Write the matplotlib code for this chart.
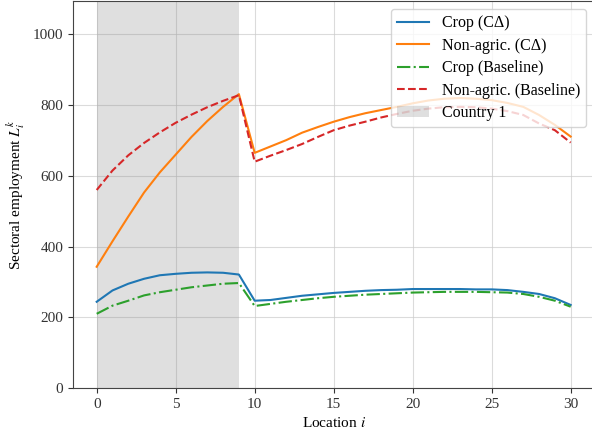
import matplotlib
matplotlib.use("Agg")
import matplotlib.pyplot as plt
from matplotlib.patches import Patch

plt.rcParams["font.family"] = ["Liberation Serif", "DejaVu Serif"]
plt.rcParams["mathtext.fontset"] = "stix"
plt.rcParams["font.size"] = 11

locations = list(range(31))

crop_cdelta = [244, 276, 295, 309, 319, 323, 326, 327, 326, 321,
               247, 249, 255, 261, 265, 269, 272, 275, 277, 278,
               280, 280, 280, 280, 279, 279, 277, 272, 266, 254, 235]
nonagric_cdelta = [343, 415, 485, 553, 610, 660, 710, 755, 795, 831,
                   665, 683, 701, 722, 738, 753, 766, 777, 786, 795,
                   805, 813, 818, 820, 818, 814, 806, 795, 772, 744, 711]
crop_base = [210, 233, 247, 262, 271, 278, 285, 290, 295, 297,
             232, 238, 244, 249, 254, 258, 261, 264, 266, 268,
             270, 271, 272, 272, 272, 271, 270, 266, 258, 247, 230]
nonagric_base = [560, 615, 658, 693, 723, 750, 773, 794, 812, 828,
                 640, 657, 673, 690, 710, 729, 742, 753, 765, 775,
                 784, 790, 794, 795, 794, 790, 783, 772, 748, 729, 694]

country1_span = (0, 9)


def main():
    fig = plt.figure(figsize=(5.92, 4.4), dpi=100)
    ax = fig.add_axes([0.1233, 0.118, 0.8807, 0.8795])

    ax.axvspan(*country1_span, color="gray", alpha=0.25, lw=0)
    ax.plot(locations, crop_cdelta, color="C0", lw=1.5, label="Crop (CΔ)")
    ax.plot(locations, nonagric_cdelta, color="C1", lw=1.5, label="Non-agric. (CΔ)")
    ax.plot(locations, crop_base, color="C2", lw=1.5, ls="-.", label="Crop (Baseline)")
    ax.plot(locations, nonagric_base, color="C3", lw=1.5, ls="--", label="Non-agric. (Baseline)")

    handles, labels = ax.get_legend_handles_labels()
    handles.append(Patch(facecolor="gray", alpha=0.25, lw=0))
    labels.append("Country 1")
    ax.legend(handles, labels, loc="upper right", fontsize=11.5,
              borderaxespad=0.5, labelspacing=0.4)

    ax.set_xlim(-1.5, 31.5)
    ax.set_ylim(0, 1094)
    ax.set_xticks([0, 5, 10, 15, 20, 25, 30])
    ax.set_yticks([0, 200, 400, 600, 800, 1000])
    ax.grid(True, color="#cccccc", alpha=0.7, lw=0.8)
    ax.set_axisbelow(True)
    for sp in ax.spines.values():
        sp.set_color("#444444")
    ax.tick_params(colors="#333333")

    ax.set_xlabel("Location $i$")
    ax.set_ylabel("Sectoral employment $L_i^k$")

    fig.savefig("out.png", dpi=100)
    plt.close(fig)


if __name__ == "__main__":
    main()
